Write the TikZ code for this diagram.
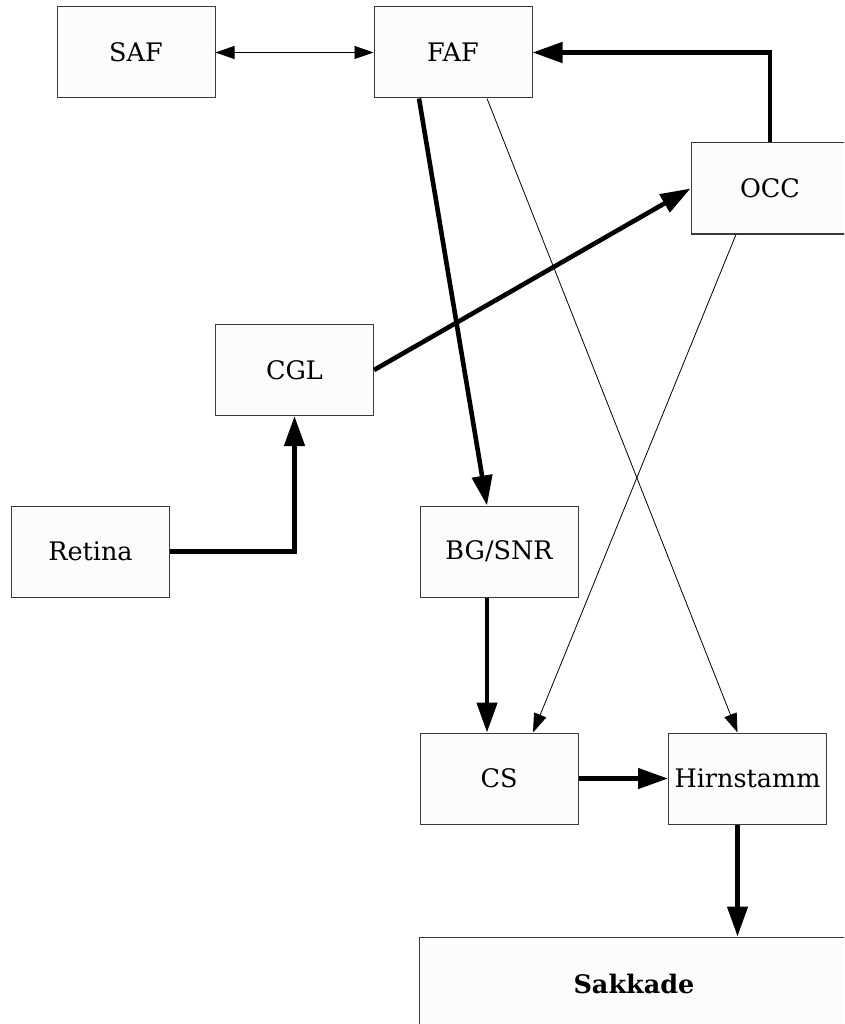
\documentclass[tikz,border=0pt]{standalone}
\usepackage{fontspec}
\setmainfont{DejaVu Serif}
\usetikzlibrary{arrows.meta}
\definecolor{boxfill}{HTML}{FCFCFC}
\definecolor{boxline}{HTML}{3A3A3A}
\tikzset{
  blk/.style={draw=boxline, fill=boxfill, line width=1pt, minimum width=158pt, minimum height=91pt, inner sep=0pt, font=\fontsize{25.5}{30}\selectfont},
  thick arrow/.style={line width=4.6pt, -{Triangle[length=30pt,width=20pt]}},
  thin arrow/.style={line width=0.8pt, -{Triangle[length=19pt,width=13pt]}},
}
\begin{document}
\begin{tikzpicture}[x=1pt,y=-1pt]
\clip (0,0) rectangle (844,1024);
\fill[white] (0,0) rectangle (844,1024);
\node[blk] (saf) at (136,52.5) {SAF};
\node[blk] (faf) at (453,52.5) {FAF};
\node[blk] (occ) at (770,188.5) {OCC};
\node[blk] (cgl) at (294.5,370) {CGL};
\node[blk] (ret) at (90.5,551.5) {Retina};
\node[blk] (bg) at (499,551.5) {BG/SNR};
\node[blk] (cs) at (499,778.5) {CS};
\node[blk] (hirn) at (747.5,778.5) {Hirnstamm};
\node[blk, minimum width=430pt, minimum height=94pt, font=\fontsize{25.5}{30}\selectfont\bfseries] (sak) at (634,984) {Sakkade};

\draw[thin arrow, {Triangle[length=19pt,width=13pt]}-{Triangle[length=19pt,width=13pt]}] (saf.east) -- (faf.west);
\draw[thick arrow] (occ.north) |- (faf.east);
\draw[thick arrow] ([xshift=-34pt]faf.south) -- ([xshift=-12pt]bg.north);
\draw[thin arrow] ([xshift=34pt]faf.south) -- ([xshift=-10pt]hirn.north);
\draw[thick arrow] (cgl.east) -- (occ.west);
\draw[thin arrow] ([xshift=-34pt]occ.south) -- ([xshift=34pt]cs.north);
\draw[thick arrow] (ret.east) -| (cgl.south);
\draw[thick arrow] ([xshift=-12pt]bg.south) -- ([xshift=-12pt]cs.north);
\draw[thick arrow] (cs.east) -- (hirn.west);
\draw[thick arrow] ([xshift=-10pt]hirn.south) -- ([xshift=-10pt]hirn.south |- sak.north);
\end{tikzpicture}
\end{document}
